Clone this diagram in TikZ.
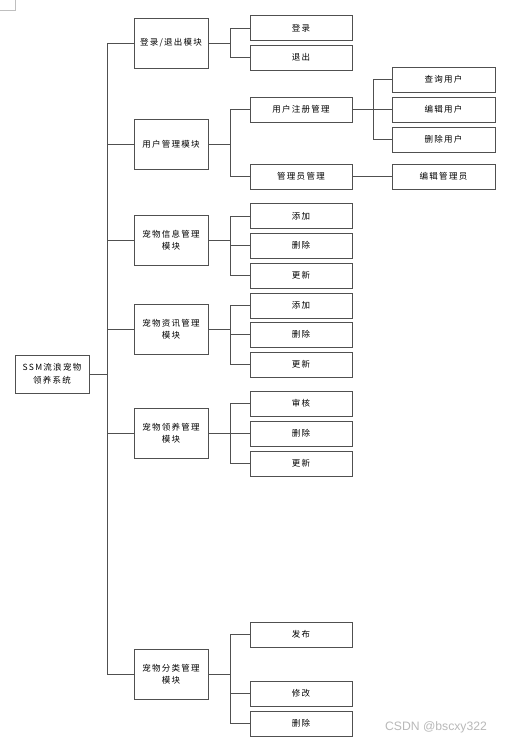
\documentclass[tikz,border=0pt]{standalone}
\usepackage{fontspec}
\newfontfamily\cjk[LetterSpace=15]{Noto Sans CJK SC}
\newfontfamily\wm{Liberation Sans}
\definecolor{ln}{HTML}{505050}
\begin{document}
\begin{tikzpicture}[x=1pt,y=-1pt,
  box/.style={draw=ln,line width=0.8pt,fill=white,inner sep=1pt,align=center,
    font=\cjk\fontsize{8.5}{12.5}\selectfont},
  lone/.style={box,minimum width=74pt,minimum height=50pt},
  ltwo/.style={box,minimum width=102pt,minimum height=25pt},
  lthree/.style={box,minimum width=103pt,minimum height=25pt},
  conn/.style={draw=ln,line width=0.8pt}]
\useasboundingbox (0,0) rectangle (505,744);
\fill[white] (0,0) rectangle (505,744);
\draw[gray!50,line width=0.5pt] (0,10) -- (15,10) -- (15,0);
% root
\node[box,minimum width=74pt,minimum height=38pt] (root) at (52,374) {SSM流浪宠物\\领养系统};
% level 1
\node[lone] (a) at (171,43) {登录/退出模块};
\node[lone] (b) at (171,144) {用户管理模块};
\node[lone] (c) at (171,240) {宠物信息管理\\模块};
\node[lone] (d) at (171,329) {宠物资讯管理\\模块};
\node[lone] (e) at (171,433) {宠物领养管理\\模块};
\node[lone] (f) at (171,674) {宠物分类管理\\模块};
% level 2
\node[ltwo] (a1) at (301,28) {登录};
\node[ltwo] (a2) at (301,57.5) {退出};
\node[ltwo] (b1) at (301,109.5) {用户注册管理};
\node[ltwo] (b2) at (301,176.5) {管理员管理};
\node[ltwo] (c1) at (301,216) {添加};
\node[ltwo] (c2) at (301,245.5) {删除};
\node[ltwo] (c3) at (301,275.5) {更新};
\node[ltwo] (d1) at (301,305.5) {添加};
\node[ltwo] (d2) at (301,334.5) {删除};
\node[ltwo] (d3) at (301,364.5) {更新};
\node[ltwo] (e1) at (301,403.5) {审核};
\node[ltwo] (e2) at (301,433.5) {删除};
\node[ltwo] (e3) at (301,463.5) {更新};
\node[ltwo] (f1) at (301,634.5) {发布};
\node[ltwo] (f2) at (301,693.5) {修改};
\node[ltwo] (f3) at (301,723.5) {删除};
% level 3
\node[lthree] (b11) at (443.5,79.5) {查询用户};
\node[lthree] (b12) at (443.5,109.5) {编辑用户};
\node[lthree] (b13) at (443.5,139.5) {删除用户};
\node[lthree] (b21) at (443.5,176.5) {编辑管理员};
% connectors
\foreach \c in {a,b,c,d,e,f}
  \path[conn] (root.east) -- ++(18,0) |- (\c.west);
\foreach \p/\cs in {a/{a1,a2},b/{b1,b2},c/{c1,c2,c3},d/{d1,d2,d3},e/{e1,e2,e3},f/{f1,f2,f3}}
  \foreach \c in \cs
    \path[conn] (\p.east) -- ++(22,0) |- (\c.west);
\foreach \c in {b11,b12,b13}
  \path[conn] (b1.east) -- ++(21,0) |- (\c.west);
\path[conn] (b2.east) -- (b21.west);
% watermark
\node[font=\wm\fontsize{12.2}{14}\selectfont,text=gray!55,inner sep=0pt] (wm) at (436,727) {CSDN @bscxy322};
\end{tikzpicture}
\end{document}
